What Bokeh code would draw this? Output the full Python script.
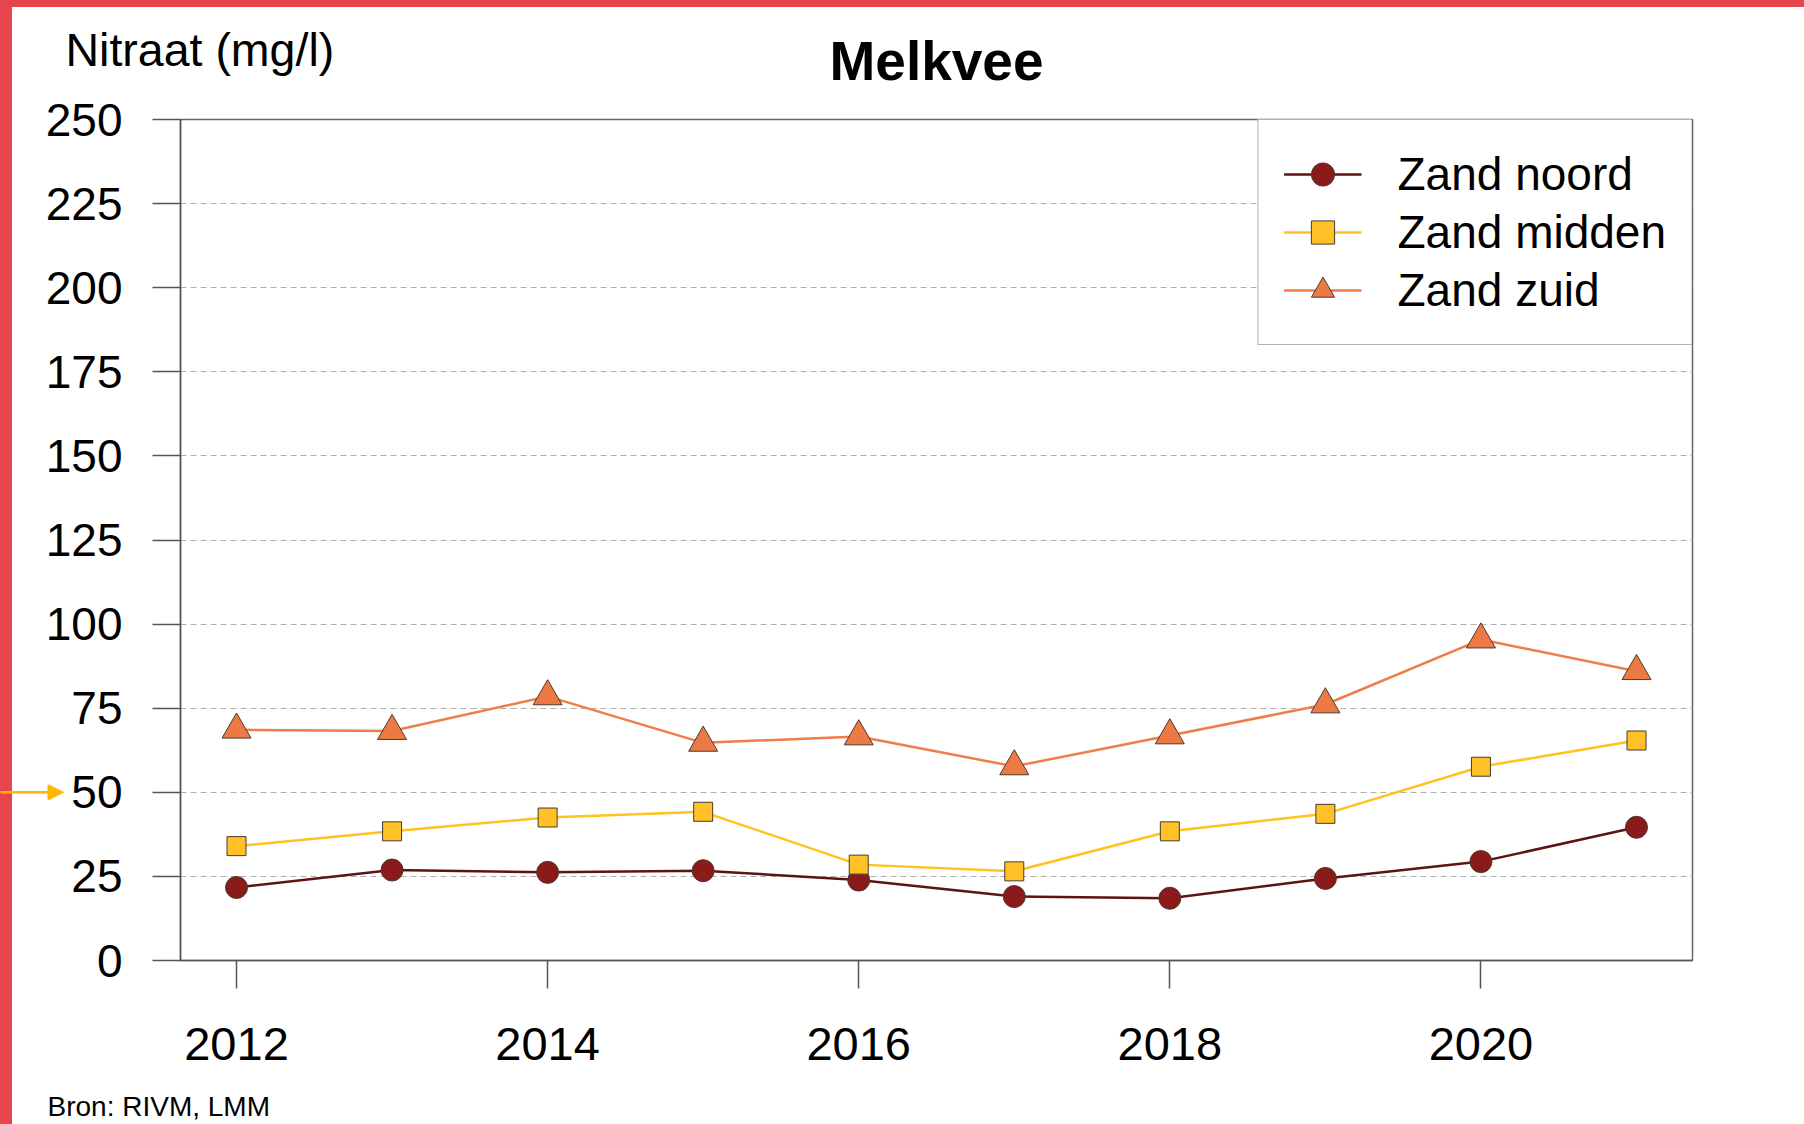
from bokeh.plotting import figure
from bokeh.models import Range1d, FixedTicker, Title, Arrow, NormalHead, Legend, LegendItem
from bokeh.embed import file_html
from bokeh.resources import INLINE

# ---- data ----
years = [2012, 2013, 2014, 2015, 2016, 2017, 2018, 2019, 2020, 2021]
zand_noord = [21.7, 26.9, 26.2, 26.7, 23.9, 19.0, 18.5, 24.4, 29.4, 39.6]
zand_midden = [34.0, 38.4, 42.5, 44.2, 28.5, 26.5, 38.4, 43.6, 57.6, 65.4]
zand_zuid = [68.6, 68.2, 78.5, 64.7, 66.6, 57.7, 66.9, 76.1, 95.4, 86.0]
series_names = ["Zand noord", "Zand midden", "Zand zuid"]
x_ticks = [2012, 2014, 2016, 2018, 2020]
y_ticks = [0, 25, 50, 75, 100, 125, 150, 175, 200, 225, 250]
grid_values = [25, 50, 75, 100, 125, 150, 175, 200, 225]
norm_value = 50

FONT = "Liberation Sans"
RED = "#E8444C"
X0, X1 = 2011.64, 2021.36
Y0, Y1 = 0, 250

p = figure(
    width=1804, height=1184,
    x_range=Range1d(X0, X1), y_range=Range1d(Y0, Y1),
    output_backend="svg", toolbar_location=None,
    min_border_left=180, min_border_right=112,
    min_border_top=119, min_border_bottom=224,
    background_fill_color="white", border_fill_color=None,
)
p.styles = {
    "position": "fixed", "top": "0px", "left": "0px",
    "background": (f"linear-gradient({RED}, {RED}) 0 0 / 100% 7px no-repeat, "
                   f"linear-gradient({RED}, {RED}) 0 0 / 12px 100% no-repeat, white"),
}

# outer title: y-axis quantity, top left
p.title.text = "Nitraat (mg/l)"
p.title.align = "left"
p.title.offset = -115
p.title.text_font = FONT
p.title.text_font_size = "46.5px"
p.title.text_font_style = "normal"
p.title.text_color = "black"
p.title.standoff = -144

# inner title: chart title
p.add_layout(Title(text="Melkvee", align="center", vertical_align="top", text_font=FONT,
                   text_font_size="55px", text_font_style="bold", text_color="black",
                   standoff=52), "above")

# source note below the x axis
p.add_layout(Title(text="Bron: RIVM, LMM", align="left", offset=-133, text_font=FONT,
                   text_font_size="28px", text_font_style="normal", text_color="black",
                   standoff=52), "below")

# frame
p.outline_line_color = "#666666"
p.outline_line_width = 1.5

# grid
p.xgrid.visible = False
p.ygrid.ticker = FixedTicker(ticks=grid_values)
p.ygrid.grid_line_color = "#b0b0b0"
p.ygrid.grid_line_dash = "6 4"
p.ygrid.grid_line_width = 1.2

# axes
for ax in (p.xaxis[0], p.yaxis[0]):
    ax.axis_line_color = "#555555"
    ax.axis_line_width = 1.5
    ax.major_tick_line_color = "#555555"
    ax.major_tick_line_width = 1.5
    ax.major_tick_out = 28
    ax.major_tick_in = 0
    ax.minor_tick_line_color = None
    ax.major_label_text_font = FONT
    ax.major_label_text_color = "black"
p.xaxis.major_label_text_font_size = "47px"
p.yaxis.major_label_text_font_size = "46px"
p.xaxis.ticker = FixedTicker(ticks=x_ticks)
p.yaxis.ticker = FixedTicker(ticks=y_ticks)
p.xaxis.major_label_standoff = 39
p.yaxis.major_label_standoff = 30

# series
styles = [
    (zand_noord, "#5E1414", "#8B1A1A", "circle", 22),
    (zand_midden, "#FFC21E", "#FFC125", "square", 19),
    (zand_zuid, "#EE7D48", "#ED7A45", "triangle", 29),
]
items = []
for name, (vals, lc, fc, mk, sz) in zip(series_names, styles):
    lr = p.line(years, vals, line_color=lc, line_width=2.5)
    sr = p.scatter(years, vals, marker=mk, size=sz, fill_color=fc,
                   line_color="#4a3a30", line_width=1)
    items.append(LegendItem(label=name, renderers=[lr, sr]))

legend = Legend(
    items=items, location="top_right", margin=0, padding=25,
    glyph_width=78, glyph_height=58, label_height=58, spacing=0,
    label_standoff=36, label_text_font=FONT, label_text_font_size="46px",
    label_text_color="black", border_line_color="#666666", border_line_width=1.5,
    background_fill_color="white", background_fill_alpha=1.0,
)
p.add_layout(legend)

# norm arrow at 50 mg/l (outside the frame, left of the axis)
px_x = (X1 - X0) / 1512.0
ARROW = "#FFB800"


def sx_to_x(sx):
    return X0 + (sx - 180) * px_x


# shaft
p.add_layout(Arrow(x_start=sx_to_x(0), y_start=norm_value,
                   x_end=sx_to_x(48), y_end=norm_value,
                   line_color=ARROW, line_width=2.5,
                   end=NormalHead(size=120, fill_alpha=0.0, line_alpha=0.0)))
# head, built from tapering slices
for k in range(8):
    a = 47 + 2 * k
    p.add_layout(Arrow(x_start=sx_to_x(a), y_start=norm_value,
                       x_end=sx_to_x(a + 3), y_end=norm_value,
                       line_color=ARROW, line_width=15 - 2 * k, line_cap="butt",
                       end=NormalHead(size=40, fill_alpha=0.0, line_alpha=0.0)))

open("out.html", "w").write(file_html(p, INLINE))
